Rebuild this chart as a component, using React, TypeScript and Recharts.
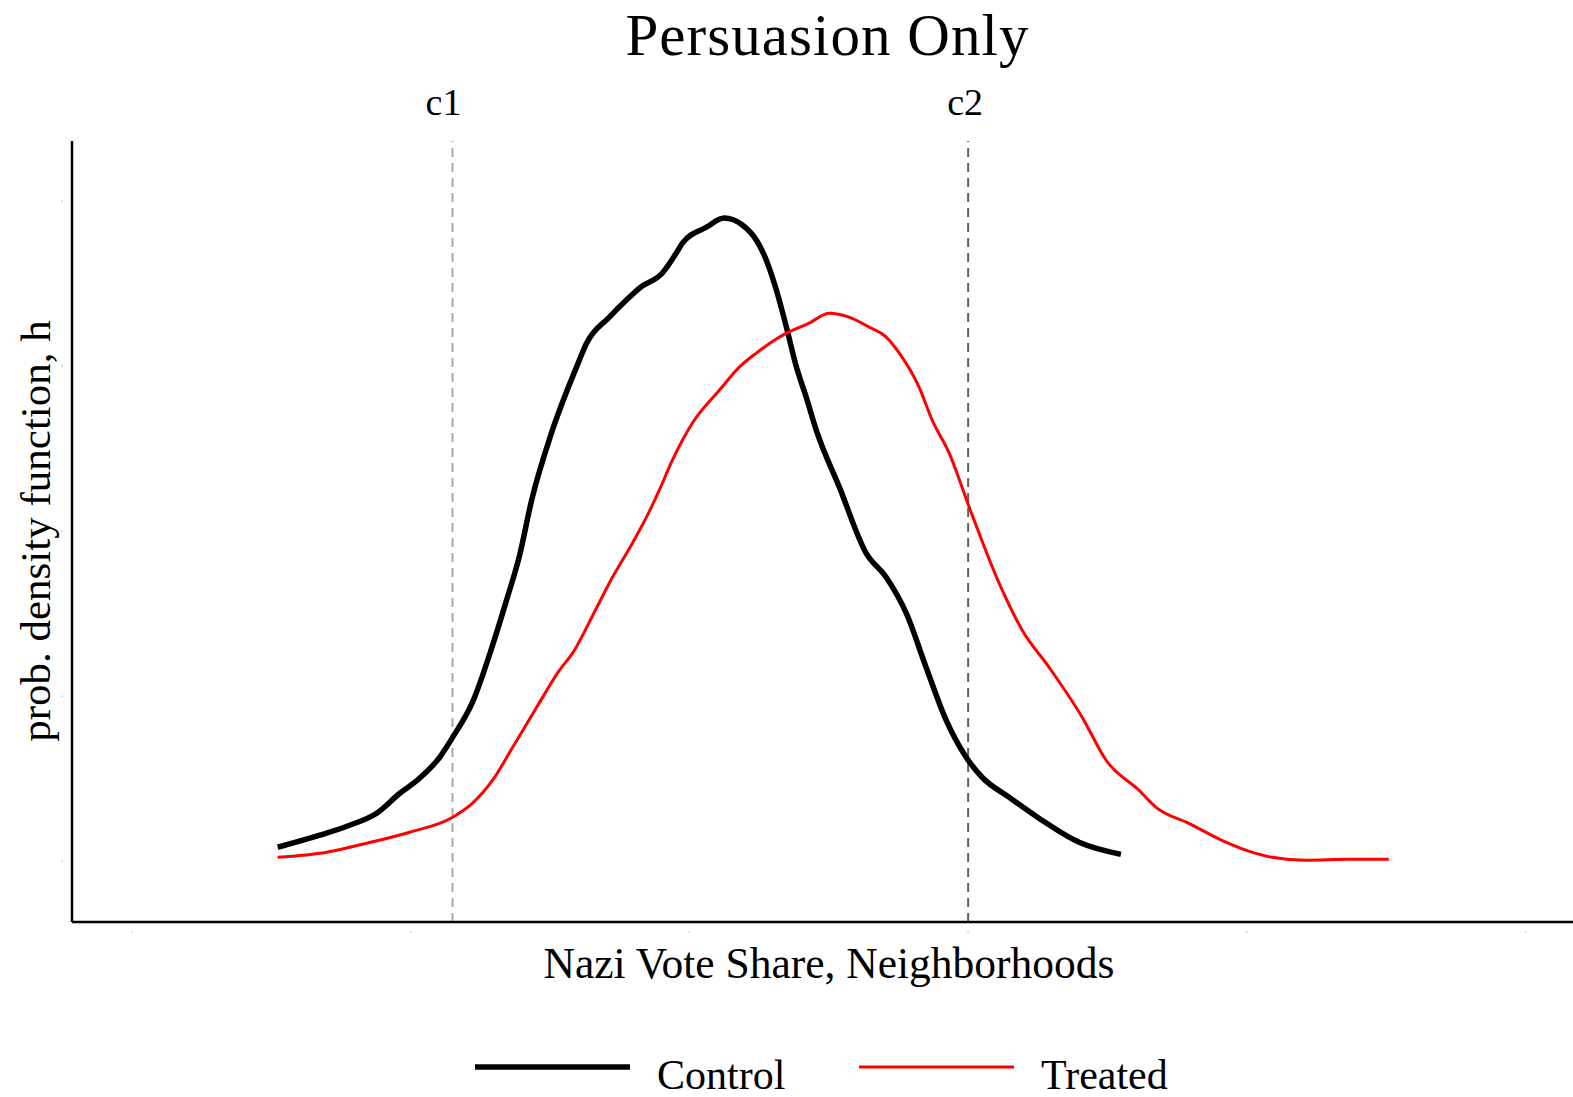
import React from 'react';
import { Line, LineChart, ReferenceLine, XAxis, YAxis } from 'recharts';

// vote share (x) and density (y)
const CONTROL_X = [5.23, 6.74, 7.81, 8.78, 9.61, 10.32, 11.04, 11.51, 12.22, 12.94, 13.44, 13.91, 14.34, 15.05, 15.95, 16.31, 17.13, 17.74, 18.21, 19.03, 19.53, 19.75, 20.61, 21.25, 21.9, 22.4, 22.76, 23.12, 23.48, 23.84, 24.19, 24.55, 25.38, 26.34, 27.06, 27.78, 28.49, 29.21, 29.93, 30.5, 31.47, 32.54, 33.98, 35.48];
const CONTROL_Y = [0.085, 0.158, 0.218, 0.291, 0.412, 0.503, 0.63, 0.752, 0.964, 1.309, 1.582, 1.855, 2.188, 2.594, 2.994, 3.139, 3.297, 3.4, 3.473, 3.564, 3.685, 3.745, 3.842, 3.897, 3.855, 3.764, 3.642, 3.461, 3.236, 2.994, 2.812, 2.612, 2.267, 1.867, 1.721, 1.503, 1.176, 0.855, 0.63, 0.509, 0.388, 0.261, 0.115, 0.042];

const TREATED_X = [5.23, 6.99, 8.42, 9.96, 11.51, 12.22, 12.94, 13.66, 14.52, 15.34, 15.81, 16.59, 17.24, 17.85, 18.46, 18.92, 19.39, 20.11, 21.08, 21.79, 22.4, 23.48, 24.3, 25.02, 25.73, 26.45, 27.06, 27.53, 28.24, 28.71, 29.32, 30.04, 31.11, 31.94, 32.9, 34.09, 34.95, 36.13, 36.74, 37.92, 39.1, 40.32, 40.9, 42.11, 43.66, 45.09];
const TREATED_Y = [0.024, 0.055, 0.109, 0.176, 0.267, 0.352, 0.491, 0.691, 0.933, 1.158, 1.261, 1.509, 1.721, 1.897, 2.085, 2.248, 2.43, 2.655, 2.855, 2.994, 3.079, 3.2, 3.261, 3.321, 3.297, 3.236, 3.176, 3.079, 2.873, 2.673, 2.473, 2.145, 1.685, 1.4, 1.176, 0.873, 0.612, 0.43, 0.327, 0.23, 0.127, 0.048, 0.024, 0.006, 0.012, 0.012];

const X_TICKS = [0, 10, 20, 30, 40, 50];
const Y_TICKS = [0, 1, 2, 3, 4];
const CUTOFFS = [
  { name: 'c1', x: 11.5 },
  { name: 'c2', x: 30.0 }
];
const CUTOFF_STYLE: Record<string, { color: string; dx: number }> = {
  c1: { color: '#a8a8a8', dx: -9 },
  c2: { color: '#606060', dx: -3 }
};

const SERIES = [
  { name: 'Control', color: '#000000', width: 5.5 },
  { name: 'Treated', color: '#ff0000', width: 3 }
];

const controlData = CONTROL_X.map((x, i) => ({ x, y: CONTROL_Y[i] }));
const treatedData = TREATED_X.map((x, i) => ({ x, y: TREATED_Y[i] }));

const FONT = '"Liberation Serif", "DejaVu Serif", serif';
const W = 1573;
const H = 1097;

const XTick = (props: any) => (
  <rect x={props.x - 0.75} y={props.y + 1} width={1.5} height={1.5} fill="#c8c8c8" />
);
const YTick = (props: any) => (
  <rect x={props.x - 2.75} y={props.y - 0.75} width={1.5} height={1.5} fill="#c8c8c8" />
);

const CutoffLabel = (name: string) => (props: any) => (
  <text
    x={props.viewBox.x + CUTOFF_STYLE[name].dx}
    y={115}
    textAnchor="middle"
    fontFamily={FONT}
    fontSize={38}
    fill="#000"
  >
    {name}
  </text>
);

export default function App() {
  return (
    <div style={{ position: 'absolute', left: 0, top: 0, width: W, height: H, background: '#fff' }}>
      <LineChart
        width={W}
        height={H}
        margin={{ top: 141, right: 0, bottom: 174, left: 71 }}
        style={{ fontFamily: FONT }}
      >
        <XAxis
          dataKey="x"
          type="number"
          domain={[-2.15, 51.7]}
          ticks={X_TICKS}
          allowDataOverflow
          height={1}
          tickLine={false}
          tick={<XTick />}
          axisLine={{ stroke: '#000', strokeWidth: 2.5 }}
        />
        <YAxis
          type="number"
          domain={[-0.368, 4.364]}
          ticks={Y_TICKS}
          allowDataOverflow
          width={1}
          tickLine={false}
          tick={<YTick />}
          axisLine={{ stroke: '#000', strokeWidth: 2.5 }}
        />
        {CUTOFFS.map((c) => (
          <ReferenceLine
            key={c.name}
            x={c.x}
            stroke={CUTOFF_STYLE[c.name].color}
            strokeWidth={2}
            strokeDasharray="9 6"
            label={CutoffLabel(c.name)}
          />
        ))}
        <Line
          data={controlData}
          dataKey="y"
          type="monotone"
          stroke={SERIES[0].color}
          strokeWidth={SERIES[0].width}
          dot={false}
          isAnimationActive={false}
        />
        <Line
          data={treatedData}
          dataKey="y"
          type="monotone"
          stroke={SERIES[1].color}
          strokeWidth={SERIES[1].width}
          dot={false}
          isAnimationActive={false}
        />
        <text
          x={827}
          y={55}
          textAnchor="middle"
          fontFamily={FONT}
          fontSize={59}
          textLength={403}
          lengthAdjust="spacing"
          fill="#000"
        >
          Persuasion Only
        </text>
        <text x={829} y={978} textAnchor="middle" fontFamily={FONT} fontSize={43.5} fill="#000">
          Nazi Vote Share, Neighborhoods
        </text>
        <text
          x={50}
          y={531}
          textAnchor="middle"
          transform="rotate(-90 50 531)"
          fontFamily={FONT}
          fontSize={43}
          fill="#000"
        >
          prob. density function, h
        </text>
        {SERIES.map((s, i) => {
          const x0 = i === 0 ? 475 : 859;
          return (
            <g key={s.name}>
              <line x1={x0} x2={x0 + 155} y1={1067} y2={1067} stroke={s.color} strokeWidth={s.width} />
              <text x={x0 + 182} y={1089} fontFamily={FONT} fontSize={42} fill="#000">
                {s.name}
              </text>
            </g>
          );
        })}
      </LineChart>
    </div>
  );
}
